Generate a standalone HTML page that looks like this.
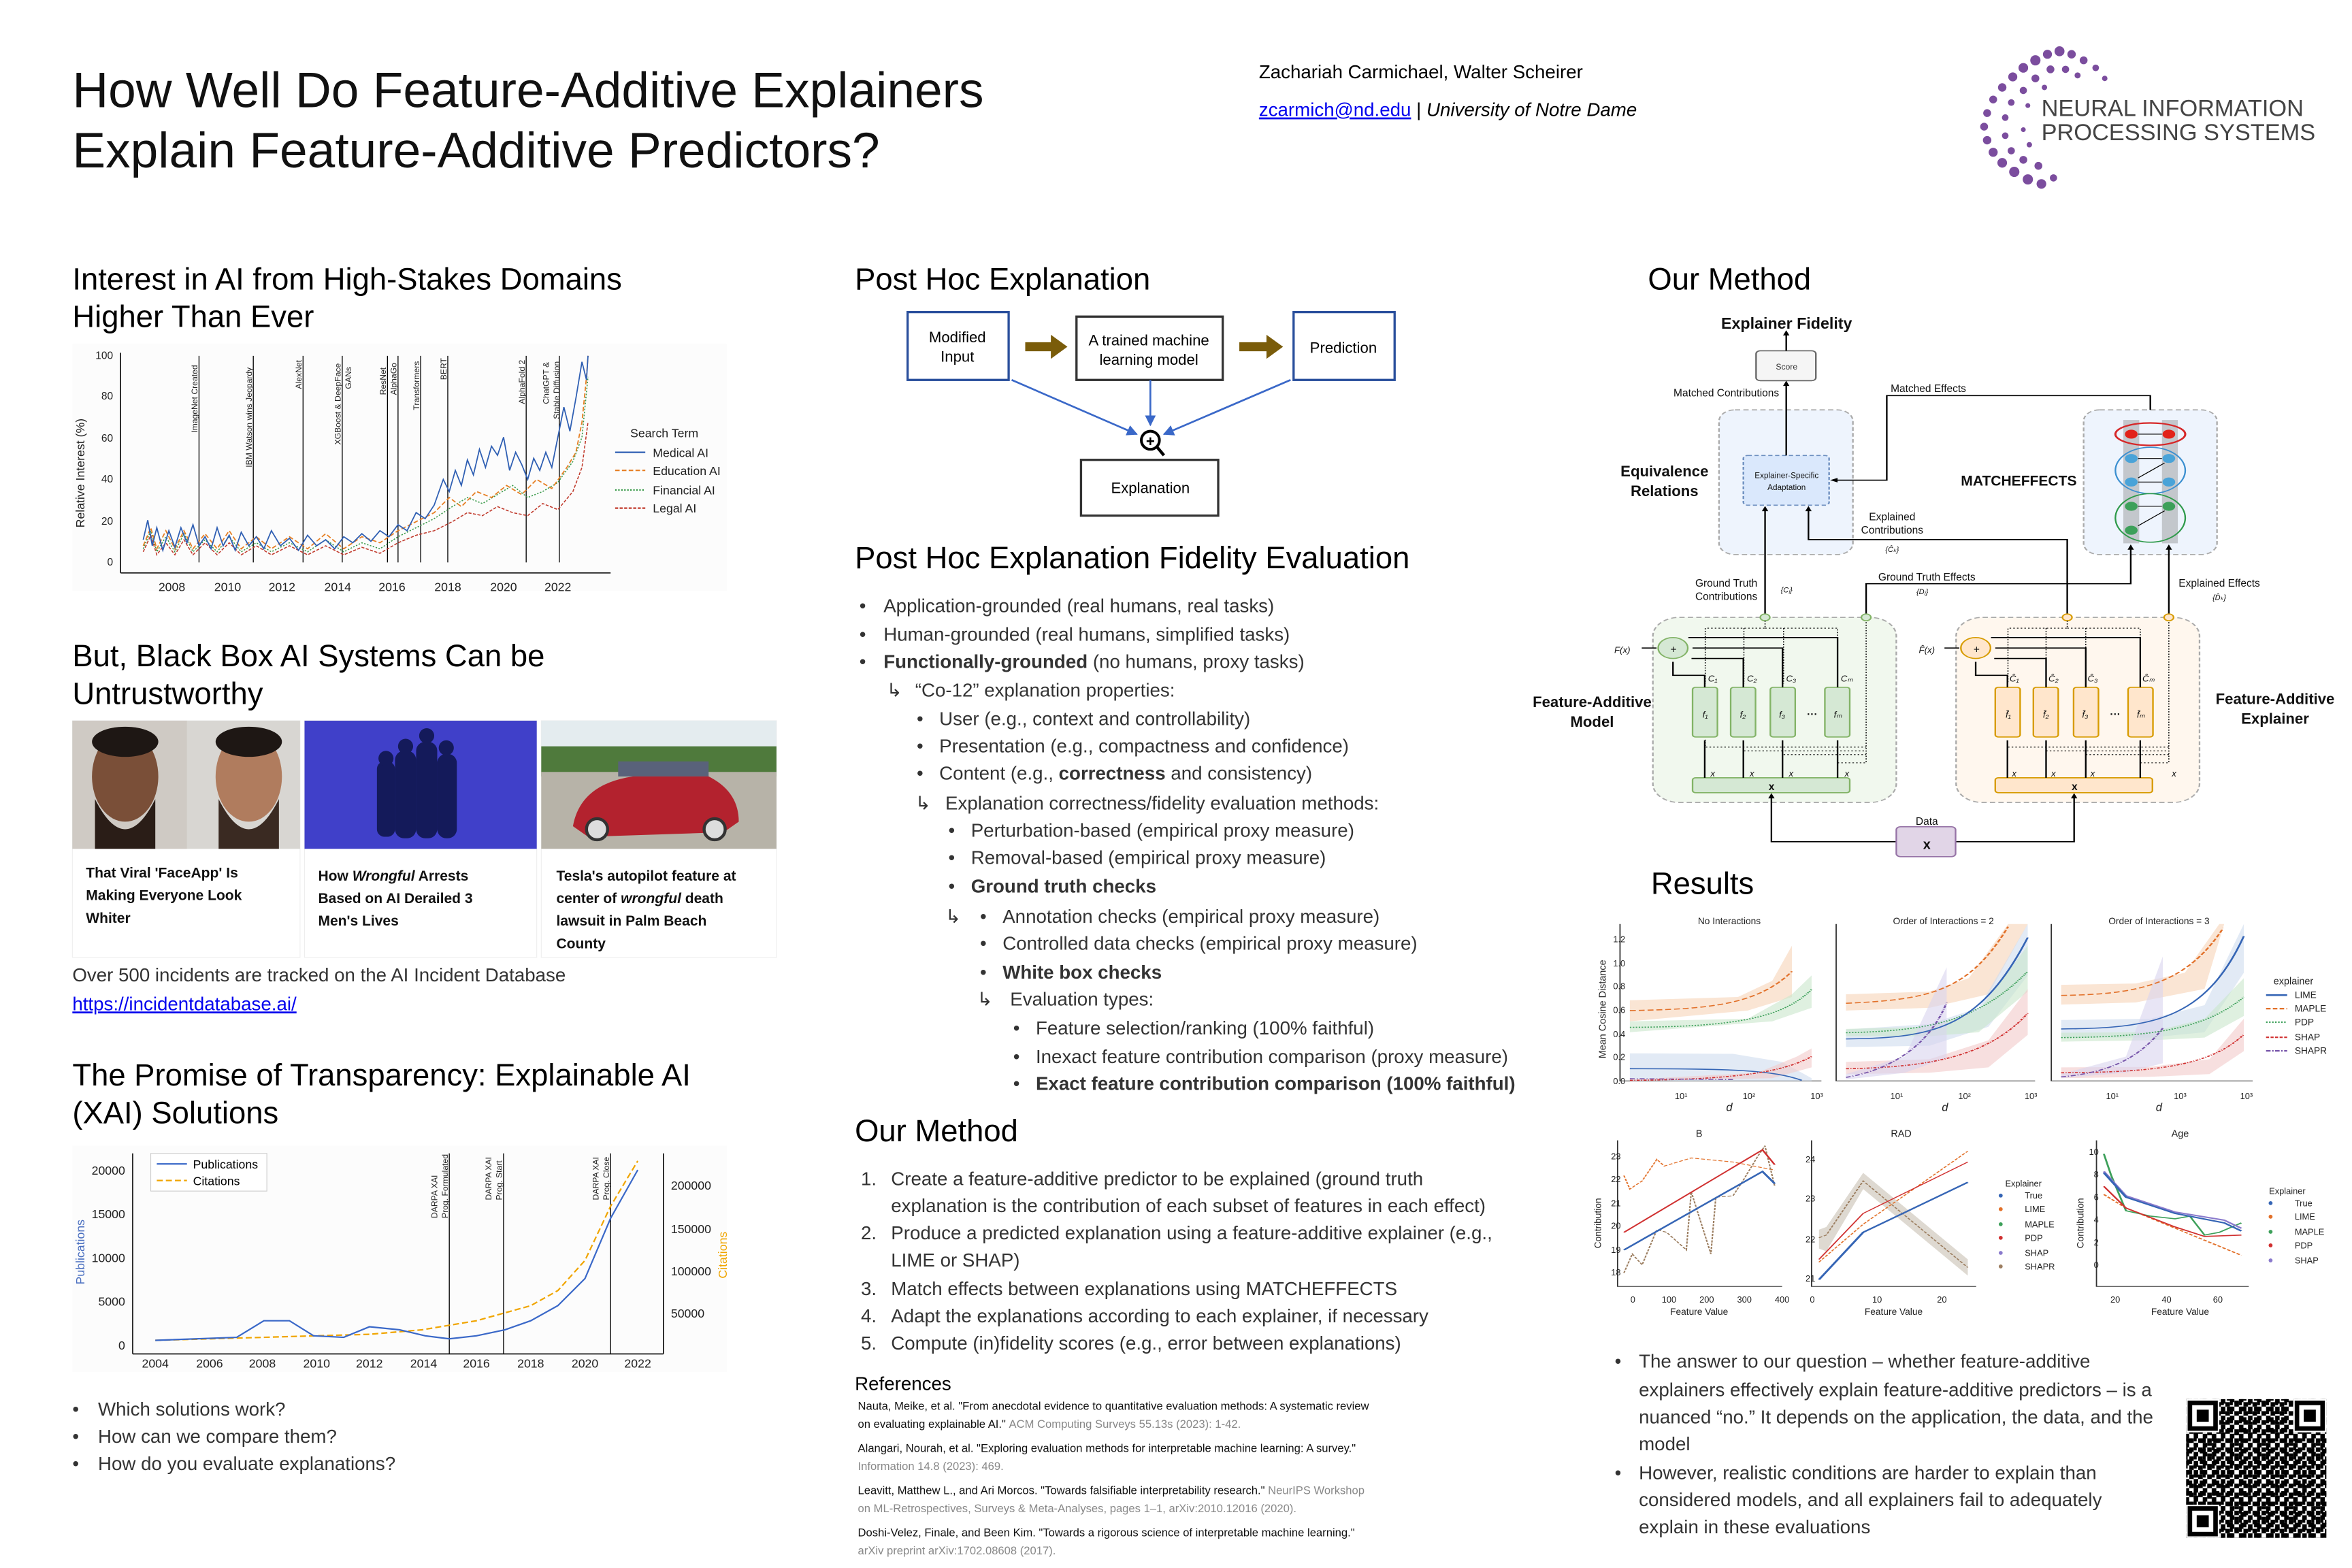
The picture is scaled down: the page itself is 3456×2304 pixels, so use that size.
<!DOCTYPE html>
<html><head><meta charset="utf-8"><style>
html,body{margin:0;padding:0;background:#fff;}
svg{display:block;font-family:"Liberation Sans",Arial,sans-serif;}
</style></head><body>
<svg width="3456" height="2304" viewBox="0 0 1560 1040" xmlns="http://www.w3.org/2000/svg">
<defs>
<marker id="ahb" viewBox="0 0 10 10" refX="9" refY="5" markerWidth="6" markerHeight="6" orient="auto"><path d="M0,0 L10,5 L0,10 z" fill="#3a68c8"/></marker>
<pattern id="qr" width="6" height="6" patternUnits="userSpaceOnUse"><rect width="6" height="6" fill="#fff"/><rect x="0" y="0" width="3" height="3" fill="#000"/><rect x="3" y="3" width="3" height="3" fill="#000"/><rect x="3" y="0" width="2" height="2" fill="#000"/></pattern>
<pattern id="qr2" width="9" height="7" patternUnits="userSpaceOnUse"><rect x="1" y="2" width="4" height="3" fill="#000"/><rect x="6" y="5" width="3" height="2" fill="#000"/></pattern>
</defs>

<!-- Title -->
<text x="48" y="71" font-size="33" fill="#111">How Well Do Feature-Additive Explainers</text>
<text x="48" y="111" font-size="33" fill="#111">Explain Feature-Additive Predictors?</text>
<text x="835" y="52" font-size="12.5">Zachariah Carmichael, Walter Scheirer</text>
<text x="835" y="77" font-size="12.5"><tspan fill="#0000ee" text-decoration="underline">zcarmich@nd.edu</tspan><tspan> | </tspan><tspan font-style="italic">University of Notre Dame</tspan></text>

<!-- NeurIPS logo -->
<g fill="#7b4d9e">
<circle cx="1358" cy="36" r="3"/><circle cx="1366" cy="34" r="3.3"/><circle cx="1374" cy="36" r="2.8"/><circle cx="1382" cy="40" r="2.6"/><circle cx="1390" cy="45" r="2.2"/><circle cx="1396" cy="52" r="1.8"/>
<circle cx="1350" cy="40" r="3.4"/><circle cx="1342" cy="45" r="3.2"/><circle cx="1335" cy="51" r="3"/><circle cx="1328" cy="58" r="2.8"/><circle cx="1322" cy="66" r="2.6"/><circle cx="1318" cy="75" r="2.6"/><circle cx="1316" cy="84" r="2.6"/><circle cx="1318" cy="93" r="2.8"/><circle cx="1322" cy="101" r="3"/><circle cx="1328" cy="108" r="3.2"/><circle cx="1336" cy="114" r="3.4"/><circle cx="1345" cy="119" r="3.4"/><circle cx="1354" cy="122" r="3.2"/><circle cx="1362" cy="118" r="2.4"/>
<circle cx="1360" cy="46" r="2.6"/><circle cx="1370" cy="46" r="2.4"/><circle cx="1378" cy="50" r="2"/><circle cx="1350" cy="52" r="2.6"/><circle cx="1342" cy="60" r="2.4"/><circle cx="1334" cy="68" r="2.2"/><circle cx="1330" cy="78" r="2.2"/><circle cx="1330" cy="90" r="2.2"/><circle cx="1334" cy="100" r="2.4"/><circle cx="1342" cy="106" r="2.6"/><circle cx="1352" cy="110" r="2.6"/><circle cx="1346" cy="96" r="1.8"/><circle cx="1342" cy="86" r="1.6"/><circle cx="1345" cy="70" r="1.6"/><circle cx="1356" cy="58" r="1.8"/>
</g>
<text x="1354" y="77" font-size="15.5" fill="#444">NEURAL INFORMATION</text>
<text x="1354" y="93" font-size="15.5" fill="#444">PROCESSING SYSTEMS</text>

<!-- LEFT COLUMN -->
<text x="48" y="192" font-size="20.5">Interest in AI from High-Stakes Domains</text>
<text x="48" y="217" font-size="20.5">Higher Than Ever</text>
<rect x="48" y="228" width="434" height="164" fill="#fcfcfc"/>
<g font-size="7" fill="#222">
<line x1="80" y1="234" x2="80" y2="380" stroke="#000" stroke-width="0.7"/>
<line x1="80" y1="380" x2="405" y2="380" stroke="#000" stroke-width="0.7"/>
<text x="75" y="238" text-anchor="end">100</text><text x="75" y="265" text-anchor="end">80</text><text x="75" y="293" text-anchor="end">60</text><text x="75" y="320" text-anchor="end">40</text><text x="75" y="348" text-anchor="end">20</text><text x="75" y="375" text-anchor="end">0</text>
<text x="114" y="392" text-anchor="middle" font-size="8">2008</text><text x="151" y="392" text-anchor="middle" font-size="8">2010</text><text x="187" y="392" text-anchor="middle" font-size="8">2012</text><text x="224" y="392" text-anchor="middle" font-size="8">2014</text><text x="260" y="392" text-anchor="middle" font-size="8">2016</text><text x="297" y="392" text-anchor="middle" font-size="8">2018</text><text x="334" y="392" text-anchor="middle" font-size="8">2020</text><text x="370" y="392" text-anchor="middle" font-size="8">2022</text>
<text transform="translate(56,350) rotate(-90)" font-size="8">Relative Interest (%)</text>
</g>
<g stroke="#000" stroke-width="0.6">
<line x1="132" y1="236" x2="132" y2="373"/><line x1="168" y1="236" x2="168" y2="373"/><line x1="201" y1="236" x2="201" y2="373"/><line x1="227" y1="236" x2="227" y2="373"/><line x1="257" y1="236" x2="257" y2="373"/><line x1="264" y1="236" x2="264" y2="373"/><line x1="279" y1="236" x2="279" y2="373"/><line x1="297" y1="236" x2="297" y2="373"/><line x1="349" y1="236" x2="349" y2="373"/><line x1="371" y1="236" x2="371" y2="373"/>
</g>
<g font-size="5.5" fill="#222">
<text transform="translate(131,287) rotate(-90)">ImageNet Created</text>
<text transform="translate(167,310) rotate(-90)">IBM Watson wins Jeopardy</text>
<text transform="translate(200,258) rotate(-90)">AlexNet</text>
<text transform="translate(226,295) rotate(-90)">XGBoost &amp; DeepFace</text>
<text transform="translate(233,258) rotate(-90)">GANs</text>
<text transform="translate(256,262) rotate(-90)">ResNet</text>
<text transform="translate(263,262) rotate(-90)">AlphaGo</text>
<text transform="translate(278,272) rotate(-90)">Transformers</text>
<text transform="translate(296,252) rotate(-90)">BERT</text>
<text transform="translate(348,268) rotate(-90)">AlphaFold 2</text>
<text transform="translate(364,268) rotate(-90)">ChatGPT &amp;</text>
<text transform="translate(371,278) rotate(-90)">Stable Diffusion</text>
</g>
<polyline fill="none" stroke="#c0392b" stroke-width="0.7" stroke-dasharray="2,1" points="95,366 100,355 104,368 110,360 116,368 122,358 128,368 136,360 144,368 152,360 160,368 170,362 180,368 192,362 204,368 216,362 228,368 240,363 252,367 264,360 276,355 288,352 300,346 310,340 320,342 330,336 340,340 350,342 360,334 370,338 380,326 386,310 390,280"/>
<polyline fill="none" stroke="#3a9a4a" stroke-width="0.7" stroke-dasharray="1,1" points="95,364 100,352 104,366 110,356 116,366 122,354 128,366 136,358 144,366 152,356 160,366 170,360 180,366 192,360 204,366 216,358 228,366 240,360 252,364 264,356 276,350 288,344 300,336 310,330 320,334 330,328 340,322 350,330 360,326 370,320 380,306 386,290 390,250"/>
<polyline fill="none" stroke="#e67e22" stroke-width="0.8" stroke-dasharray="3,1.5" points="95,362 100,350 104,364 110,352 116,364 122,352 128,364 136,354 144,364 152,352 160,364 170,356 180,364 192,356 204,364 216,354 228,364 240,356 252,360 264,352 276,346 288,340 298,330 306,336 316,326 326,330 336,322 346,328 356,318 366,324 376,310 382,300 386,280 389,250 390,236"/>
<polyline fill="none" stroke="#2f5fb3" stroke-width="0.8" points="95,358 98,345 101,362 104,350 108,365 112,352 116,363 120,350 124,360 128,348 132,362 136,356 140,364 144,350 148,362 152,355 156,365 160,353 165,362 170,356 175,364 180,352 186,362 192,357 198,365 204,355 210,362 216,358 222,364 228,356 234,360 240,354 246,359 252,352 258,356 264,348 270,352 276,340 282,344 288,335 294,318 298,326 302,312 306,322 310,305 314,315 318,298 322,310 326,296 330,302 334,290 338,312 342,300 346,308 350,318 354,304 358,312 362,300 366,310 370,290 374,270 378,286 382,264 386,240 389,252 390,236"/>
<g font-size="8" fill="#222">
<text x="418" y="290">Search Term</text>
<line x1="408" y1="300" x2="428" y2="300" stroke="#2f5fb3"/><text x="433" y="303">Medical AI</text>
<line x1="408" y1="312" x2="428" y2="312" stroke="#e67e22" stroke-dasharray="3,1.5"/><text x="433" y="315">Education AI</text>
<line x1="408" y1="325" x2="428" y2="325" stroke="#3a9a4a" stroke-dasharray="1,1"/><text x="433" y="328">Financial AI</text>
<line x1="408" y1="337" x2="428" y2="337" stroke="#c0392b" stroke-dasharray="2,1"/><text x="433" y="340">Legal AI</text>
</g>

<text x="48" y="442" font-size="20.5">But, Black Box AI Systems Can be</text>
<text x="48" y="467" font-size="20.5">Untrustworthy</text>
<!-- tiles -->
<rect x="48" y="478" width="151" height="157" fill="#fff" stroke="#eee" stroke-width="0.5"/>
<rect x="202" y="478" width="154" height="157" fill="#fff" stroke="#eee" stroke-width="0.5"/>
<rect x="359" y="478" width="156" height="157" fill="#fff" stroke="#eee" stroke-width="0.5"/>
<rect x="48" y="478" width="151" height="85" fill="#d8d6d2"/>
<rect x="48" y="478" width="76" height="85" fill="#cfcac4"/>
<ellipse cx="83" cy="515" rx="22" ry="30" fill="#7a4f38"/><path d="M63,530 Q83,570 103,530 L103,563 L63,563z" fill="#2a1d17"/><ellipse cx="83" cy="492" rx="22" ry="10" fill="#1e1714"/>
<ellipse cx="165" cy="515" rx="22" ry="30" fill="#b07c5e"/><path d="M145,530 Q165,570 185,530 L185,563 L145,563z" fill="#3a2a22"/><ellipse cx="165" cy="492" rx="22" ry="10" fill="#1e1714"/>
<rect x="202" y="478" width="154" height="85" fill="#4040c9"/>
<g fill="#141a5a"><rect x="250" y="505" width="12" height="50" rx="5"/><rect x="262" y="498" width="14" height="58" rx="6"/><rect x="276" y="492" width="14" height="64" rx="6"/><rect x="290" y="500" width="13" height="56" rx="6"/><circle cx="256" cy="503" r="5"/><circle cx="269" cy="495" r="5"/><circle cx="283" cy="488" r="5"/><circle cx="296" cy="496" r="5"/></g>
<rect x="359" y="478" width="156" height="20" fill="#e4ecef"/>
<rect x="359" y="495" width="156" height="20" fill="#4f7a3c"/>
<rect x="359" y="512" width="156" height="51" fill="#b7b3a8"/>
<rect x="410" y="505" width="60" height="10" fill="#59627a"/>
<path d="M380,548 Q385,520 420,515 L470,515 Q490,525 490,545 L480,552 L390,555z" fill="#b3222e"/>
<circle cx="396" cy="550" r="7" fill="#ddd" stroke="#333" stroke-width="2"/><circle cx="474" cy="550" r="7" fill="#ddd" stroke="#333" stroke-width="2"/>
<g font-size="9.5" font-weight="bold" fill="#111">
<text x="57" y="582">That Viral 'FaceApp' Is</text><text x="57" y="597">Making Everyone Look</text><text x="57" y="612">Whiter</text>
<text x="211" y="584">How <tspan font-style="italic">Wrongful</tspan> Arrests</text><text x="211" y="599">Based on AI Derailed 3</text><text x="211" y="614">Men's Lives</text>
<text x="369" y="584">Tesla's autopilot feature at</text><text x="369" y="599">center of <tspan font-style="italic">wrongful</tspan> death</text><text x="369" y="614">lawsuit in Palm Beach</text><text x="369" y="629">County</text>
</g>
<text x="48" y="651" font-size="12.5" fill="#333">Over 500 incidents are tracked on the AI Incident Database</text>
<text x="48" y="670" font-size="12.5" fill="#0000ee" text-decoration="underline">https://incidentdatabase.ai/</text>

<text x="48" y="720" font-size="20.5">The Promise of Transparency: Explainable AI</text>
<text x="48" y="745" font-size="20.5">(XAI) Solutions</text>
<rect x="48" y="760" width="434" height="150" fill="#fcfcfc"/>
<g font-size="8" fill="#222">
<line x1="88" y1="765" x2="88" y2="898" stroke="#000" stroke-width="0.7"/>
<line x1="88" y1="898" x2="440" y2="898" stroke="#000" stroke-width="0.7"/>
<line x1="440" y1="765" x2="440" y2="898" stroke="#000" stroke-width="0.7"/>
<text x="83" y="779" text-anchor="end">20000</text><text x="83" y="808" text-anchor="end">15000</text><text x="83" y="837" text-anchor="end">10000</text><text x="83" y="866" text-anchor="end">5000</text><text x="83" y="895" text-anchor="end">0</text>
<text x="445" y="789">200000</text><text x="445" y="818">150000</text><text x="445" y="846">100000</text><text x="445" y="874">50000</text>
<text x="103" y="907" text-anchor="middle">2004</text><text x="139" y="907" text-anchor="middle">2006</text><text x="174" y="907" text-anchor="middle">2008</text><text x="210" y="907" text-anchor="middle">2010</text><text x="245" y="907" text-anchor="middle">2012</text><text x="281" y="907" text-anchor="middle">2014</text><text x="316" y="907" text-anchor="middle">2016</text><text x="352" y="907" text-anchor="middle">2018</text><text x="388" y="907" text-anchor="middle">2020</text><text x="423" y="907" text-anchor="middle">2022</text>
<text transform="translate(56,852) rotate(-90)" fill="#4a6fc0">Publications</text>
<text transform="translate(482,848) rotate(-90)" fill="#f0a500">Citations</text>
</g>
<g stroke="#000" stroke-width="0.6"><line x1="298" y1="765" x2="298" y2="898"/><line x1="334" y1="765" x2="334" y2="898"/><line x1="405" y1="765" x2="405" y2="898"/></g>
<g font-size="5.5" fill="#222">
<text transform="translate(290,808) rotate(-90)">DARPA XAI</text><text transform="translate(297,808) rotate(-90)">Prog. Formulated</text>
<text transform="translate(326,796) rotate(-90)">DARPA XAI</text><text transform="translate(333,796) rotate(-90)">Prog. Start</text>
<text transform="translate(397,796) rotate(-90)">DARPA XAI</text><text transform="translate(404,796) rotate(-90)">Prog. Close</text>
</g>
<polyline fill="none" stroke="#f0a500" stroke-width="1" stroke-dasharray="4,2" points="103,889 140,888 175,887 210,886 245,885 280,882 316,876 352,866 370,856 388,836 405,800 423,770"/>
<polyline fill="none" stroke="#3a68c8" stroke-width="1" points="103,889 157,887 175,876 192,876 208,886 228,887 245,880 265,882 282,886 298,888 316,886 335,882 352,876 370,866 388,848 405,808 423,776"/>
<rect x="100" y="765" width="77" height="25" fill="#fff" stroke="#ccc" stroke-width="0.5"/>
<line x1="104" y1="772" x2="124" y2="772" stroke="#3a68c8"/><text x="128" y="775" font-size="8">Publications</text>
<line x1="104" y1="783" x2="124" y2="783" stroke="#f0a500" stroke-dasharray="4,2"/><text x="128" y="786" font-size="8">Citations</text>

<g font-size="12.5" fill="#333">
<text x="48" y="939">•</text><text x="65" y="939">Which solutions work?</text>
<text x="48" y="957">•</text><text x="65" y="957">How can we compare them?</text>
<text x="48" y="975">•</text><text x="65" y="975">How do you evaluate explanations?</text>
</g>

<!-- MIDDLE COLUMN -->
<text x="567" y="192" font-size="20.5">Post Hoc Explanation</text>
<g fill="none">
<rect x="602" y="207" width="67" height="45" stroke="#2a4f9c" stroke-width="1.5"/>
<rect x="714" y="210" width="97" height="42" stroke="#333" stroke-width="1.5"/>
<rect x="858" y="207" width="67" height="45" stroke="#2a4f9c" stroke-width="1.5"/>
<rect x="717" y="305" width="91" height="37" stroke="#333" stroke-width="1.5"/>
</g>
<g font-size="10" text-anchor="middle">
<text x="635" y="227">Modified</text><text x="635" y="240">Input</text>
<text x="762" y="229">A trained machine</text><text x="762" y="242">learning model</text>
<text x="891" y="234">Prediction</text>
<text x="763" y="327">Explanation</text>
</g>
<path d="M680,227 H697 V222 L708,230 L697,238 V233 H680z" fill="#7a5c0a"/>
<path d="M822,227 H840 V222 L851,230 L840,238 V233 H822z" fill="#7a5c0a"/>
<line x1="763" y1="252" x2="763" y2="282" stroke="#3a68c8" stroke-width="1.2" marker-end="url(#ahb)"/>
<line x1="671" y1="252" x2="754" y2="288" stroke="#3a68c8" stroke-width="1.2" marker-end="url(#ahb)"/>
<line x1="856" y1="252" x2="772" y2="288" stroke="#3a68c8" stroke-width="1.2" marker-end="url(#ahb)"/>
<circle cx="763" cy="292" r="6" fill="#fff" stroke="#000" stroke-width="1.8"/><line x1="767" y1="296" x2="772" y2="302" stroke="#000" stroke-width="2"/>
<text x="763" y="296" font-size="10" font-weight="bold" text-anchor="middle">+</text>

<text x="567" y="377" font-size="20.5">Post Hoc Explanation Fidelity Evaluation</text>
<g font-size="12.5" fill="#333">
<text x="570" y="406">•</text><text x="586" y="406">Application-grounded (real humans, real tasks)</text>
<text x="570" y="425">•</text><text x="586" y="425">Human-grounded (real humans, simplified tasks)</text>
<text x="570" y="443">•</text><text x="586" y="443"><tspan font-weight="bold">Functionally-grounded</tspan> (no humans, proxy tasks)</text>
<text x="588" y="462">↳</text><text x="607" y="462">“Co-12” explanation properties:</text>
<text x="608" y="481">•</text><text x="623" y="481">User (e.g., context and controllability)</text>
<text x="608" y="499">•</text><text x="623" y="499">Presentation (e.g., compactness and confidence)</text>
<text x="608" y="517">•</text><text x="623" y="517">Content (e.g., <tspan font-weight="bold">correctness</tspan> and consistency)</text>
<text x="607" y="537">↳</text><text x="627" y="537">Explanation correctness/fidelity evaluation methods:</text>
<text x="629" y="555">•</text><text x="644" y="555">Perturbation-based (empirical proxy measure)</text>
<text x="629" y="573">•</text><text x="644" y="573">Removal-based (empirical proxy measure)</text>
<text x="629" y="592">•</text><text x="644" y="592" font-weight="bold">Ground truth checks</text>
<text x="627" y="612">↳</text><text x="650" y="612">•</text><text x="665" y="612">Annotation checks (empirical proxy measure)</text>
<text x="650" y="630">•</text><text x="665" y="630">Controlled data checks (empirical proxy measure)</text>
<text x="650" y="649">•</text><text x="665" y="649" font-weight="bold">White box checks</text>
<text x="648" y="667">↳</text><text x="670" y="667">Evaluation types:</text>
<text x="672" y="686">•</text><text x="687" y="686">Feature selection/ranking (100% faithful)</text>
<text x="672" y="705">•</text><text x="687" y="705">Inexact feature contribution comparison (proxy measure)</text>
<text x="672" y="723">•</text><text x="687" y="723" font-weight="bold">Exact feature contribution comparison (100% faithful)</text>
</g>

<text x="567" y="757" font-size="20.5">Our Method</text>
<g font-size="12.5" fill="#333">
<text x="571" y="786">1.</text><text x="591" y="786">Create a feature-additive predictor to be explained (ground truth</text>
<text x="591" y="804">explanation is the contribution of each subset of features in each effect)</text>
<text x="571" y="822">2.</text><text x="591" y="822">Produce a predicted explanation using a feature-additive explainer (e.g.,</text>
<text x="591" y="840">LIME or SHAP)</text>
<text x="571" y="859">3.</text><text x="591" y="859">Match effects between explanations using MATCHEFFECTS</text>
<text x="571" y="877">4.</text><text x="591" y="877">Adapt the explanations according to each explainer, if necessary</text>
<text x="571" y="895">5.</text><text x="591" y="895">Compute (in)fidelity scores (e.g., error between explanations)</text>
</g>
<text x="567" y="922" font-size="12.5">References</text>
<g font-size="7.5" fill="#111">
<text x="569" y="935">Nauta, Meike, et al. "From anecdotal evidence to quantitative evaluation methods: A systematic review</text>
<text x="569" y="947">on evaluating explainable AI." <tspan fill="#888">ACM Computing Surveys 55.13s (2023): 1-42.</tspan></text>
<text x="569" y="963">Alangari, Nourah, et al. "Exploring evaluation methods for interpretable machine learning: A survey."</text>
<text x="569" y="975" fill="#888">Information 14.8 (2023): 469.</text>
<text x="569" y="991">Leavitt, Matthew L., and Ari Morcos. "Towards falsifiable interpretability research." <tspan fill="#888">NeurIPS Workshop</tspan></text>
<text x="569" y="1003" fill="#888">on ML-Retrospectives, Surveys &amp; Meta-Analyses, pages 1–1, arXiv:2010.12016 (2020).</text>
<text x="569" y="1019">Doshi-Velez, Finale, and Been Kim. "Towards a rigorous science of interpretable machine learning."</text>
<text x="569" y="1031" fill="#888">arXiv preprint arXiv:1702.08608 (2017).</text>
</g>

<!-- RIGHT COLUMN: Our Method diagram -->
<text x="1093" y="192" font-size="20.5">Our Method</text>
<g transform="translate(-5,0)">
<g transform="translate(1016,190.5) scale(0.351,0.248)" stroke-width="3">
<rect x="368" y="328" width="253" height="387" rx="30" fill="#eef4fd" stroke="#aaa" stroke-dasharray="10,6"/>
<rect x="1057" y="328" width="252" height="387" rx="30" fill="#eef4fd" stroke="#aaa" stroke-dasharray="10,6"/>
<rect x="243" y="883" width="460" height="495" rx="50" fill="#f1f8ee" stroke="#aaa" stroke-dasharray="10,6"/>
<rect x="816" y="883" width="460" height="495" rx="50" fill="#fff7ee" stroke="#aaa" stroke-dasharray="10,6"/>
<rect x="438" y="170" width="113" height="80" rx="8" fill="#f5f5f5" stroke="#666"/>
<rect x="414" y="450" width="162" height="133" rx="8" fill="#dae8fc" stroke="#6c8ebf" stroke-dasharray="8,5"/>
<g fill="none" stroke="#000">
<line x1="495" y1="170" x2="495" y2="122"/>
<line x1="495" y1="450" x2="495" y2="258"/>
<path d="M1183,328 V290 H685 V516 H585"/>
<path d="M1026,875 V675 H537 V592"/>
<line x1="455" y1="875" x2="455" y2="592"/>
<path d="M646,875 V793 H1146 V695"/>
<line x1="1218" y1="875" x2="1218" y2="695"/>
<path d="M703,1483 H467 V1360"/>
<path d="M815,1483 H1039 V1360"/>
</g>
<g fill="#000">
<path d="M495,115 l-6,14 h12z"/><path d="M495,250 l-6,14 h12z"/><path d="M578,516 l14,-6 v12z"/><path d="M537,585 l-6,14 h12z"/><path d="M455,585 l-6,14 h12z"/><path d="M1146,688 l-6,14 h12z"/><path d="M1218,688 l-6,14 h12z"/><path d="M467,1353 l-6,14 h12z"/><path d="M1039,1353 l-6,14 h12z"/>
</g>
<rect x="1132" y="355" width="30" height="330" fill="#c3c7cc"/><rect x="1205" y="355" width="30" height="330" fill="#c3c7cc"/>
<ellipse cx="1183" cy="393" rx="66" ry="30" fill="none" stroke="#d62728" stroke-width="4"/>
<ellipse cx="1183" cy="490" rx="66" ry="62" fill="none" stroke="#3b8fd0" stroke-width="3"/>
<ellipse cx="1183" cy="617" rx="66" ry="65" fill="none" stroke="#2e9a4a" stroke-width="3"/>
<g stroke="#000" stroke-width="2"><line x1="1160" y1="393" x2="1205" y2="393"/><line x1="1160" y1="458" x2="1205" y2="458"/><line x1="1160" y1="521" x2="1205" y2="521"/><line x1="1160" y1="510" x2="1210" y2="470"/><line x1="1160" y1="586" x2="1205" y2="586"/><line x1="1160" y1="638" x2="1210" y2="598"/></g>
<g><circle cx="1147" cy="393" r="12" fill="#e2231a"/><circle cx="1218" cy="393" r="12" fill="#e2231a"/>
<circle cx="1147" cy="458" r="12" fill="#4aa3d8"/><circle cx="1218" cy="458" r="12" fill="#4aa3d8"/><circle cx="1147" cy="521" r="12" fill="#4aa3d8"/><circle cx="1218" cy="521" r="12" fill="#4aa3d8"/>
<circle cx="1147" cy="586" r="12" fill="#3da05a"/><circle cx="1218" cy="586" r="12" fill="#3da05a"/><circle cx="1147" cy="650" r="12" fill="#3da05a"/></g>
<circle cx="455" cy="883" r="9" fill="#d5e8d4" stroke="#82b366"/><circle cx="646" cy="883" r="9" fill="#d5e8d4" stroke="#82b366"/>
<circle cx="1026" cy="883" r="9" fill="#ffe6cc" stroke="#d79b00"/><circle cx="1218" cy="883" r="9" fill="#ffe6cc" stroke="#d79b00"/>
<g fill="none" stroke="#000" stroke-width="2" stroke-dasharray="3,4">
<path d="M455,892 V912 H342 V1060 M415,912 V1060 M490,912 V1060 M455,912 H592 V1060"/>
<path d="M342,1210 V1230 H646 M415,1240 H646 M490,1250 H646 M592,1272 H646 V892"/>
<path d="M1026,892 V912 H914 V1060 M986,912 V1060 M1061,912 V1060 M1026,912 H1164 V1060"/>
<path d="M914,1230 H1218 M986,1240 H1218 M1061,1250 H1218 M1164,1272 H1218 V892"/>
</g>
<g fill="#d5e8d4" stroke="#82b366">
<rect x="318" y="1070" width="47" height="133" rx="6"/><rect x="390" y="1070" width="47" height="133" rx="6"/><rect x="465" y="1070" width="47" height="133" rx="6"/><rect x="568" y="1070" width="47" height="133" rx="6"/>
<rect x="318" y="1312" width="297" height="40" rx="6"/><circle cx="281" cy="965" r="28"/>
</g>
<g fill="#ffe6cc" stroke="#d79b00">
<rect x="890" y="1070" width="47" height="133" rx="6"/><rect x="962" y="1070" width="47" height="133" rx="6"/><rect x="1038" y="1070" width="47" height="133" rx="6"/><rect x="1141" y="1070" width="47" height="133" rx="6"/>
<rect x="890" y="1312" width="297" height="40" rx="6"/><circle cx="853" cy="965" r="28"/>
</g>
<rect x="703" y="1443" width="112" height="80" rx="8" fill="#e1d5e7" stroke="#9673a6"/>
<g fill="none" stroke="#000" stroke-width="3">
<path d="M341,1312 V1212 M414,1312 V1212 M488,1312 V1212 M592,1312 V1212"/>
<path d="M913,1312 V1212 M986,1312 V1212 M1061,1312 V1212 M1164,1312 V1212"/>
<path d="M341,1070 V1038 H281 V1002 M414,1070 V993 H316 M488,1070 V965 H318 M592,1070 V937 H310"/>
<path d="M913,1070 V1038 H853 V1002 M986,1070 V993 H888 M1061,1070 V965 H890 M1164,1070 V937 H882"/>
<path d="M250,965 H222 M822,965 H794"/>
</g>
</g>
<g font-size="7" text-anchor="middle" fill="#111">
<text x="1190" y="218" font-size="10.5" font-weight="bold">Explainer Fidelity</text>
<text x="1190" y="245" font-size="5.5" fill="#333">Score</text>
<text x="1185" y="263" text-anchor="end">Matched Contributions</text>
<text x="1259" y="260" text-anchor="start">Matched Effects</text>
<text x="1190" y="317" font-size="5.3">Explainer-Specific</text><text x="1190" y="325" font-size="5.3">Adaptation</text>
<text x="1109" y="316" font-size="10" font-weight="bold">Equivalence</text><text x="1109" y="329" font-size="10" font-weight="bold">Relations</text>
<text x="1344" y="322" font-size="9.5" font-weight="bold">MATCHEFFECTS</text>
<text x="1260" y="345">Explained</text><text x="1260" y="354">Contributions</text><text x="1260" y="366" font-size="5" font-style="italic">{Ĉₖ}</text>
<text x="1150" y="389">Ground Truth</text><text x="1150" y="398">Contributions</text><text x="1190" y="393" font-size="5" font-style="italic">{Cⱼ}</text>
<text x="1283" y="385">Ground Truth Effects</text><text x="1280" y="394" font-size="5" font-style="italic">{Dⱼ}</text>
<text x="1477" y="389">Explained Effects</text><text x="1477" y="398" font-size="5" font-style="italic">{D̂ₖ}</text>
<text x="1081" y="433" font-size="6" font-style="italic">F(x)</text><text x="1283" y="433" font-size="6" font-style="italic">F̂(x)</text>
<text x="1115" y="433" font-size="7">+</text><text x="1316" y="433" font-size="7">+</text>
<text x="1061" y="469" font-size="10" font-weight="bold">Feature-Additive</text><text x="1061" y="482" font-size="10" font-weight="bold">Model</text>
<text x="1514" y="467" font-size="10" font-weight="bold">Feature-Additive</text><text x="1514" y="480" font-size="10" font-weight="bold">Explainer</text>
<g font-size="6" font-style="italic"><text x="1136" y="476">f₁</text><text x="1161" y="476">f₂</text><text x="1187" y="476">f₃</text><text x="1224" y="476">fₘ</text>
<text x="1337" y="476">f̂₁</text><text x="1362" y="476">f̂₂</text><text x="1388" y="476">f̂₃</text><text x="1425" y="476">f̂ₘ</text>
<text x="1141" y="452">C₁</text><text x="1167" y="452">C₂</text><text x="1193" y="452">C₃</text><text x="1230" y="452">Cₘ</text>
<text x="1341" y="452">Ĉ₁</text><text x="1367" y="452">Ĉ₂</text><text x="1393" y="452">Ĉ₃</text><text x="1430" y="452">Ĉₘ</text>
<text x="1141" y="515">x</text><text x="1167" y="515">x</text><text x="1193" y="515">x</text><text x="1230" y="515">x</text>
<text x="1341" y="515">x</text><text x="1367" y="515">x</text><text x="1393" y="515">x</text><text x="1447" y="515">x</text></g>
<text x="1207" y="476" font-weight="bold">···</text><text x="1408" y="476" font-weight="bold">···</text>
<text x="1180" y="524" font-weight="bold">x</text><text x="1381" y="524" font-weight="bold">x</text>
<text x="1283" y="547">Data</text><text x="1283" y="563" font-weight="bold" font-size="9">x</text>
</g>
</g>

<!-- Results -->
<text x="1095" y="593" font-size="20.5">Results</text>
<g transform="translate(1051.7,600.3) scale(0.3258,0.1794)">
<g stroke="#333" stroke-width="2.5" fill="none">
<path d="M70,70 V650 H480"/><path d="M510,70 V650 H915"/><path d="M948,70 V650 H1358"/>
<path d="M65,870 V1410 H400"/><path d="M460,870 V1410 H795"/><path d="M1040,870 V1410 H1350"/>
</g>
<polygon points="90,352 310,340 380,280 420,150 420,340 330,390 90,430" fill="#f7d3b8" opacity="0.6"/>
<polygon points="90,430 330,420 420,330 460,260 460,380 380,430 90,470" fill="#c9e6cc" opacity="0.6"/>
<polygon points="90,548 300,550 400,580 460,640 460,650 90,650" fill="#cfdcef" opacity="0.6"/>
<polygon points="90,645 350,620 430,560 460,530 460,600 380,640 90,650" fill="#f2c9c9" opacity="0.6"/>
<path d="M90,390 C250,385 350,370 420,245" fill="none" stroke="#e2712a" stroke-width="4" stroke-dasharray="12,6"/>
<path d="M90,452 C300,450 400,420 460,312" fill="none" stroke="#3da05a" stroke-width="4" stroke-dasharray="3,3"/>
<path d="M90,605 C300,605 380,610 440,648" fill="none" stroke="#3565b5" stroke-width="4"/>
<path d="M90,648 C300,645 400,620 460,560" fill="none" stroke="#d03030" stroke-width="4" stroke-dasharray="6,3,2,3"/>
<path d="M90,642 L300,645" fill="none" stroke="#7755aa" stroke-width="4" stroke-dasharray="10,4,2,4"/>
<polygon points="530,330 700,320 780,270 860,70 900,70 820,330 700,380 530,390" fill="#f7d3b8" opacity="0.6"/>
<polygon points="530,460 700,440 800,380 900,70 900,260 820,450 700,520 530,525" fill="#cfdcef" opacity="0.6"/>
<polygon points="530,458 700,450 800,390 900,150 900,320 800,470 700,485 530,485" fill="#c9e6cc" opacity="0.6"/>
<polygon points="530,580 700,570 820,500 900,310 900,480 820,600 700,620 530,625" fill="#f2c9c9" opacity="0.6"/>
<polygon points="530,625 650,560 735,230 735,565 650,620 530,645" fill="#d8d3ee" opacity="0.6"/>
<path d="M530,363 C700,350 780,320 860,80" fill="none" stroke="#e2712a" stroke-width="4" stroke-dasharray="12,6"/>
<path d="M530,472 C700,465 800,430 900,245" fill="none" stroke="#3da05a" stroke-width="4" stroke-dasharray="3,3"/>
<path d="M530,495 C700,490 800,470 900,120" fill="none" stroke="#3565b5" stroke-width="4"/>
<path d="M530,605 C700,600 820,560 900,400" fill="none" stroke="#d03030" stroke-width="4" stroke-dasharray="6,3,2,3"/>
<path d="M530,637 C620,610 700,520 735,360" fill="none" stroke="#7755aa" stroke-width="4" stroke-dasharray="10,4,2,4"/>
<polygon points="968,295 1120,290 1220,250 1290,70 1300,70 1260,310 1120,360 968,368" fill="#f7d3b8" opacity="0.6"/>
<polygon points="968,425 1150,420 1260,370 1340,70 1340,250 1260,470 1150,490 968,490" fill="#cfdcef" opacity="0.6"/>
<polygon points="968,472 1150,470 1260,420 1340,270 1340,410 1260,490 1150,500 968,505" fill="#c9e6cc" opacity="0.6"/>
<polygon points="968,600 1150,598 1270,570 1340,420 1340,540 1270,625 1150,635 968,640" fill="#f2c9c9" opacity="0.6"/>
<polygon points="968,625 1100,560 1175,190 1175,585 1100,620 968,640" fill="#d8d3ee" opacity="0.6"/>
<path d="M968,334 C1120,330 1220,300 1298,85" fill="none" stroke="#e2712a" stroke-width="4" stroke-dasharray="12,6"/>
<path d="M968,490 C1150,488 1260,460 1340,340" fill="none" stroke="#3da05a" stroke-width="4" stroke-dasharray="3,3"/>
<path d="M968,458 C1150,455 1260,430 1340,115" fill="none" stroke="#3565b5" stroke-width="4"/>
<path d="M968,620 C1150,618 1270,600 1340,478" fill="none" stroke="#d03030" stroke-width="4" stroke-dasharray="6,3,2,3"/>
<path d="M968,635 C1070,620 1130,560 1175,455" fill="none" stroke="#7755aa" stroke-width="4" stroke-dasharray="10,4,2,4"/>
<polyline points="78,1000 90,1050 115,1020 145,940 160,965 215,935 300,950 385,980" fill="none" stroke="#e2712a" stroke-width="3" stroke-dasharray="8,4"/>
<polyline points="78,1360 95,1290 115,1330 145,1200 165,1210 205,1275 215,1060 255,1290 265,1080 300,1075 320,1020 350,930 365,890 385,1040" fill="none" stroke="#9c7e60" stroke-width="3" stroke-dasharray="8,4"/>
<polyline points="78,1210 360,905 385,960" fill="none" stroke="#d03030" stroke-width="4"/>
<polyline points="78,1275 360,985 385,1030" fill="none" stroke="#3565b5" stroke-width="5"/>
<polygon points="475,1200 490,1190 565,990 778,1310 778,1370 565,1050 490,1280 475,1270" fill="#c8bfb2" opacity="0.6"/>
<polyline points="475,1230 490,1220 565,1020 778,1340" fill="none" stroke="#9c7e60" stroke-width="3" stroke-dasharray="8,4"/>
<polyline points="475,1320 565,1180 778,910" fill="none" stroke="#e2712a" stroke-width="3" stroke-dasharray="8,4"/>
<polyline points="475,1310 565,1140 778,950" fill="none" stroke="#d03030" stroke-width="3"/>
<polyline points="475,1385 565,1210 778,1025" fill="none" stroke="#3565b5" stroke-width="5"/>
<polyline points="1055,1070 1100,1120 1335,1295" fill="none" stroke="#e2712a" stroke-width="4" stroke-dasharray="8,4"/>
<polyline points="1055,920 1070,1000 1100,1130 1150,1150 1200,1160 1230,1150 1260,1220 1290,1210 1335,1175" fill="none" stroke="#3da05a" stroke-width="4"/>
<polyline points="1055,1040 1100,1120 1200,1190 1260,1225 1335,1220" fill="none" stroke="#d03030" stroke-width="4"/>
<polyline points="1055,985 1100,1075 1200,1135 1300,1165 1335,1195" fill="none" stroke="#8a7acc" stroke-width="5"/>
<polyline points="1055,990 1100,1080 1200,1140 1300,1175 1335,1205" fill="none" stroke="#3565b5" stroke-width="5"/>
</g>
<g font-size="6.2" fill="#222">
<text x="1147" y="613" text-anchor="middle">No Interactions</text>
<text x="1289" y="613" text-anchor="middle">Order of Interactions = 2</text>
<text x="1432" y="613" text-anchor="middle">Order of Interactions = 3</text>
<text transform="translate(1065,702) rotate(-90)" font-size="6.5">Mean Cosine Distance</text>
<g text-anchor="end" font-size="5.8"><text x="1078" y="625">1.2</text><text x="1078" y="641">1.0</text><text x="1078" y="656">0.8</text><text x="1078" y="672">0.6</text><text x="1078" y="688">0.4</text><text x="1078" y="703">0.2</text><text x="1078" y="719">0.0</text></g>
<g font-size="5.8" text-anchor="middle"><text x="1115" y="729">10¹</text><text x="1160" y="729">10²</text><text x="1205" y="729">10³</text><text x="1258" y="729">10¹</text><text x="1303" y="729">10²</text><text x="1347" y="729">10³</text><text x="1401" y="729">10¹</text><text x="1446" y="729">10³</text><text x="1490" y="729">10³</text></g>
<g font-style="italic" font-size="7.5" text-anchor="middle"><text x="1147" y="737">d</text><text x="1290" y="737">d</text><text x="1432" y="737">d</text></g>
<text x="1508" y="653" font-size="6.5">explainer</text>
<line x1="1503" y1="660" x2="1517" y2="660" stroke="#3565b5" stroke-width="1.2"/><text x="1522" y="662">LIME</text>
<line x1="1503" y1="669" x2="1517" y2="669" stroke="#e2712a" stroke-dasharray="3,1.5"/><text x="1522" y="671">MAPLE</text>
<line x1="1503" y1="678" x2="1517" y2="678" stroke="#3da05a" stroke-dasharray="1,1"/><text x="1522" y="680">PDP</text>
<line x1="1503" y1="688" x2="1517" y2="688" stroke="#d03030" stroke-dasharray="2,1"/><text x="1522" y="690">SHAP</text>
<line x1="1503" y1="697" x2="1517" y2="697" stroke="#7755aa" stroke-dasharray="3,1,1,1"/><text x="1522" y="699">SHAPR</text>
<text x="1127" y="754" text-anchor="middle" font-size="6.5">B</text><text x="1261" y="754" text-anchor="middle" font-size="6.5">RAD</text><text x="1446" y="754" text-anchor="middle" font-size="6.5">Age</text>
<g font-size="5.8" text-anchor="end"><text x="1075" y="769">23</text><text x="1075" y="784">22</text><text x="1075" y="800">21</text><text x="1075" y="815">20</text><text x="1075" y="831">19</text><text x="1075" y="846">18</text>
<text x="1204" y="771">24</text><text x="1204" y="797">23</text><text x="1204" y="824">22</text><text x="1204" y="850">21</text>
<text x="1392" y="766">10</text><text x="1392" y="781">8</text><text x="1392" y="796">6</text><text x="1392" y="811">4</text><text x="1392" y="826">2</text><text x="1392" y="841">0</text></g>
<g font-size="5.8" text-anchor="middle"><text x="1083" y="864">0</text><text x="1107" y="864">100</text><text x="1132" y="864">200</text><text x="1157" y="864">300</text><text x="1182" y="864">400</text><text x="1202" y="864">0</text><text x="1245" y="864">10</text><text x="1288" y="864">20</text><text x="1403" y="864">20</text><text x="1437" y="864">40</text><text x="1471" y="864">60</text></g>
<g font-size="6.2" text-anchor="middle"><text x="1127" y="872">Feature Value</text><text x="1256" y="872">Feature Value</text><text x="1446" y="872">Feature Value</text></g>
<text transform="translate(1062,828) rotate(-90)" font-size="6.2">Contribution</text>
<text transform="translate(1382,828) rotate(-90)" font-size="6.2">Contribution</text>
<g font-size="5.8"><text x="1330" y="787">Explainer</text>
<circle cx="1327" cy="793" r="1.3" fill="#3565b5"/><text x="1343" y="795">True</text>
<circle cx="1327" cy="802" r="1.3" fill="#e2712a"/><text x="1343" y="804">LIME</text>
<circle cx="1327" cy="812" r="1.3" fill="#3da05a"/><text x="1343" y="814">MAPLE</text>
<circle cx="1327" cy="821" r="1.3" fill="#d03030"/><text x="1343" y="823">PDP</text>
<circle cx="1327" cy="831" r="1.3" fill="#8a7acc"/><text x="1343" y="833">SHAP</text>
<circle cx="1327" cy="840" r="1.3" fill="#9c7e60"/><text x="1343" y="842">SHAPR</text>
<text x="1505" y="792">Explainer</text>
<circle cx="1506" cy="798" r="1.3" fill="#3565b5"/><text x="1522" y="800">True</text>
<circle cx="1506" cy="807" r="1.3" fill="#e2712a"/><text x="1522" y="809">LIME</text>
<circle cx="1506" cy="817" r="1.3" fill="#3da05a"/><text x="1522" y="819">MAPLE</text>
<circle cx="1506" cy="826" r="1.3" fill="#d03030"/><text x="1522" y="828">PDP</text>
<circle cx="1506" cy="836" r="1.3" fill="#8a7acc"/><text x="1522" y="838">SHAP</text></g>
</g>

<g font-size="12.5" fill="#333">
<text x="1071" y="907">•</text><text x="1087" y="907">The answer to our question – whether feature-additive</text>
<text x="1087" y="926">explainers effectively  explain feature-additive predictors – is a</text>
<text x="1087" y="944">nuanced “no.” It depends on the application, the data, and the</text>
<text x="1087" y="962">model</text>
<text x="1071" y="981">•</text><text x="1087" y="981">However, realistic conditions are harder to explain than</text>
<text x="1087" y="999">considered models, and all explainers fail to adequately</text>
<text x="1087" y="1017">explain in these evaluations</text>
</g>
<rect x="1450" y="928" width="93" height="92" fill="url(#qr)"/>
<rect x="1450" y="928" width="93" height="92" fill="url(#qr2)"/>
<g><rect x="1450" y="928" width="22" height="22" fill="#fff"/><rect x="1451" y="929" width="20" height="20" fill="#000"/><rect x="1454" y="932" width="14" height="14" fill="#fff"/><rect x="1457" y="935" width="8" height="8" fill="#000"/>
<rect x="1521" y="928" width="22" height="22" fill="#fff"/><rect x="1522" y="929" width="20" height="20" fill="#000"/><rect x="1525" y="932" width="14" height="14" fill="#fff"/><rect x="1528" y="935" width="8" height="8" fill="#000"/>
<rect x="1450" y="998" width="22" height="22" fill="#fff"/><rect x="1451" y="999" width="20" height="20" fill="#000"/><rect x="1454" y="1002" width="14" height="14" fill="#fff"/><rect x="1457" y="1005" width="8" height="8" fill="#000"/></g>
</svg>
</body></html>
